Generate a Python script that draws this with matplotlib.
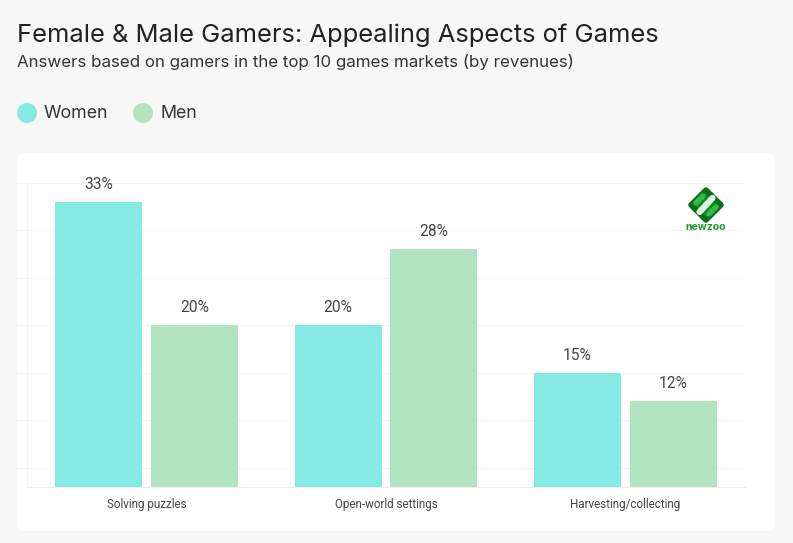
import matplotlib
matplotlib.use("Agg")
import matplotlib.pyplot as plt
from matplotlib.patches import FancyBboxPatch, Circle, Polygon
import numpy as np

W, H = 793, 543
categories = ["Solving puzzles", "Open-world settings", "Harvesting/collecting"]
women = [33, 20, 15]
men = [20, 28, 12]
series_names = ["Women", "Men"]
colors = ["#84EAE3", "#B2E4C0"]
y_ticks = [5, 10, 15, 20, 25, 30, 35]
title = "Female & Male Gamers: Appealing Aspects of Games"
subtitle = "Answers based on gamers in the top 10 games markets (by revenues)"

def fx(p): return p / W
def fy(p): return 1 - p / H

fig = plt.figure(figsize=(W / 100, H / 100), dpi=100, facecolor="#F7F7F7")

# card
bg = fig.add_axes([0, 0, 1, 1], facecolor="none")
bg.set_xlim(0, W); bg.set_ylim(H, 0); bg.axis("off")
bg.add_patch(FancyBboxPatch((17 + 8, 153 + 8), 758 - 16, 378 - 16,
                            boxstyle="round,pad=8,rounding_size=8", fc="white", ec="none"))
# legend
for cx, c, name, tx in [(27, colors[0], series_names[0], 44), (143, colors[1], series_names[1], 161)]:
    bg.add_patch(Circle((cx, 113), 10, fc=c, ec="none"))
    bg.text(tx, 113.5, name, fontsize=12.8, family="Inter", color="#333333", va="center", ha="left")

fig.text(fx(17), fy(35.5), title, fontsize=18.4, family="Inter", color="#222222", va="center", ha="left")
fig.text(fx(17), fy(62.5), subtitle, fontsize=12.2, family="Inter", color="#333333", va="center", ha="left")

# chart
ax = fig.add_axes([fx(27), fy(487), fx(745 - 27), (487 - 183) / H], facecolor="none")
x = np.arange(len(categories))
bw, off = 0.3636, 0.2
b1 = ax.bar(x - off, women, bw, color=colors[0], zorder=3)
b2 = ax.bar(x + off, men, bw, color=colors[1], zorder=3)
for bars, vals in ((b1, women), (b2, men)):
    for r, v in zip(bars, vals):
        ax.annotate(f"{v}%", (r.get_x() + r.get_width() / 2, v), xytext=(0, 7.2), textcoords="offset points",
                    ha="center", va="bottom", fontsize=11.2, family="Roboto", color="#444444", zorder=4)
ax.set_xlim(-0.5, 2.5)
ax.set_ylim(2.95, 35)
ax.set_yticks(y_ticks)
ax.set_yticklabels([])
ax.set_xticks(x)
ax.set_xticklabels(categories, fontsize=8.4, family="Roboto", color="#444444")
ax.tick_params(axis="x", length=0, pad=7.6)
ax.tick_params(axis="y", length=10, color="#F4F4F4", width=0.8)
ax.grid(axis="y", color="#F4F4F4", lw=0.8, zorder=0)
ax.set_axisbelow(True)
for s in ("top", "right"):
    ax.spines[s].set_visible(False)
ax.spines["left"].set_color("#F4F4F4"); ax.spines["left"].set_linewidth(0.8)
ax.spines["bottom"].set_color("#EDEDED"); ax.spines["bottom"].set_linewidth(0.8)

# logo
bg.add_patch(Polygon([(706, 190), (721, 205), (706, 220), (691, 205)], closed=True, fc="#0B8A1E", ec="#0B6E1B",
                     lw=4, joinstyle="round", zorder=5))
bg.plot([699.5, 706], [212, 205], color="#DDF3DF", lw=4.5, solid_capstyle="round", zorder=6)
bg.plot([706, 712.5], [205, 198], color="#DDF3DF", lw=4.5, solid_capstyle="round", zorder=6)
bg.plot([696, 703], [203, 196], color="#35B84A", lw=4, solid_capstyle="round", zorder=6)
bg.plot([709, 716], [214, 207], color="#35B84A", lw=4, solid_capstyle="round", zorder=6)
bg.text(706, 227, "newzoo", fontsize=7.6, fontweight="bold", family="Inter", color="#149A33", ha="center", va="center")

fig.savefig("out.png", dpi=100, facecolor=fig.get_facecolor())
